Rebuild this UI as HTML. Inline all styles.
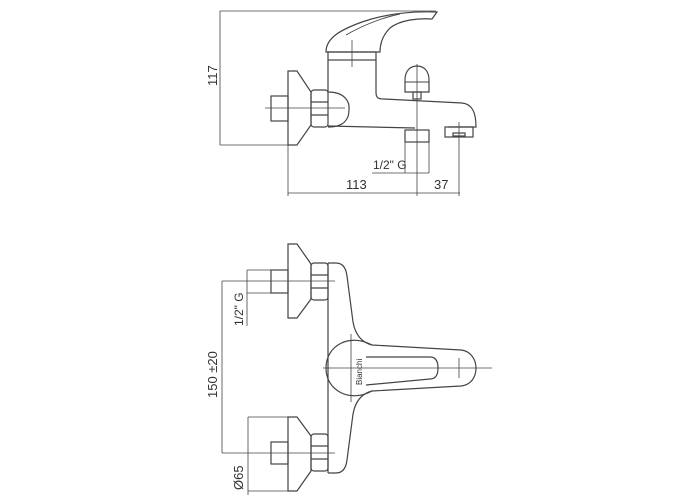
<!DOCTYPE html>
<html><head><meta charset="utf-8"><style>
html,body{margin:0;padding:0;background:#fff;}
svg{display:block;}
text{font-family:"Liberation Sans",sans-serif;fill:#333;}
</style></head><body>
<svg width="700" height="500" viewBox="0 0 700 500" fill="none" stroke="#444" stroke-width="1.2">
<!-- TOP VIEW -->
<!-- 117 dim -->
<line x1="220" y1="11" x2="220" y2="145" stroke-width="0.8"/>
<line x1="220" y1="11" x2="436" y2="11" stroke-width="0.8"/>
<line x1="220" y1="145" x2="297" y2="145" stroke-width="0.8"/>
<text x="0" y="0" transform="translate(217,86) rotate(-90)" font-size="13" stroke="none">117</text>
<!-- handle -->
<path d="M326,52 C326,38 340,30 362,22 C385,14 410,11 437,12 L432,19 C418,18 400,20 390,28 C382,36 380,44 380,52 Z"/>
<path d="M346,35 C365,24 385,17 400,14" stroke-width="0.9"/>
<rect x="328" y="52" width="48" height="8"/>
<line x1="352" y1="40" x2="352" y2="67" stroke-width="0.8"/>
<line x1="340" y1="52" x2="366" y2="52" stroke-width="0.8"/>
<!-- body -->
<path d="M328,60 L328,92 M376,60 L376,92 C376,98 378,99 384,99 L462,103 C472,104 476,112 476,127 L448,127"/>
<path d="M328,126 L415,128"/>
<path d="M328,92 C345,92 350,102 349,110 C349,120 343,127 328,127"/>
<!-- escutcheon, nut, pipe -->
<path d="M288,71 L297,71 L311,92 L311,125 L297,145 L288,145 Z"/>
<rect x="311" y="90" width="17" height="37" rx="3"/>
<line x1="311" y1="102" x2="328" y2="102"/>
<line x1="311" y1="115" x2="328" y2="115"/>
<rect x="271" y="96" width="17" height="25"/>
<line x1="265" y1="108" x2="345" y2="108" stroke-width="0.8"/>
<!-- diverter -->
<path d="M405,92 L405,80 C405,70 411,66 417,66 C423,66 429,70 429,80 L429,92 Z"/>
<line x1="405" y1="82" x2="429" y2="82" stroke-width="0.9"/>
<rect x="413" y="92" width="8" height="7"/>
<line x1="417" y1="64" x2="417" y2="196" stroke-width="0.8"/>
<!-- outlet -->
<rect x="405" y="130" width="24" height="12"/>
<line x1="405" y1="142" x2="405" y2="173" stroke-width="0.8"/>
<line x1="429" y1="142" x2="429" y2="173" stroke-width="0.8"/>
<line x1="372" y1="173" x2="429" y2="173" stroke-width="0.8"/>
<text x="373" y="169" font-size="12" stroke="none">1/2" G</text>
<!-- spout nozzle -->
<rect x="445" y="127" width="28" height="10"/>
<rect x="453" y="133" width="12" height="3"/>
<line x1="459" y1="122" x2="459" y2="196" stroke-width="0.8"/>
<!-- bottom dims -->
<line x1="288" y1="145" x2="288" y2="196" stroke-width="0.8"/>
<line x1="288" y1="193" x2="460" y2="193" stroke-width="0.8"/>
<text x="346" y="189" font-size="13" stroke="none">113</text>
<text x="434" y="189" font-size="13" stroke="none">37</text>

<!-- BOTTOM VIEW -->
<text x="0" y="0" transform="translate(217,398) rotate(-90)" font-size="13" stroke="none">150 ±20</text>
<line x1="222" y1="281" x2="222" y2="453" stroke-width="0.8"/>
<line x1="222" y1="281" x2="335" y2="281" stroke-width="0.8"/>
<line x1="222" y1="453" x2="335" y2="453" stroke-width="0.8"/>
<!-- 1/2 G dim -->
<line x1="247" y1="270" x2="271" y2="270" stroke-width="0.8"/>
<line x1="247" y1="293" x2="271" y2="293" stroke-width="0.8"/>
<line x1="247" y1="270" x2="247" y2="326" stroke-width="0.8"/>
<text x="0" y="0" transform="translate(243,326) rotate(-90)" font-size="12" stroke="none">1/2" G</text>
<!-- top escutcheon -->
<path d="M288,244 L297,244 L311,264 L311,299 L297,318 L288,318 Z"/>
<rect x="311" y="263" width="17" height="37" rx="3"/>
<line x1="311" y1="275" x2="328" y2="275"/>
<line x1="311" y1="288" x2="328" y2="288"/>
<rect x="271" y="270" width="17" height="23"/>
<!-- bottom escutcheon -->
<path d="M288,417 L297,417 L311,436 L311,471 L297,491 L288,491 Z"/>
<rect x="311" y="434" width="17" height="37" rx="3"/>
<line x1="311" y1="446" x2="328" y2="446"/>
<line x1="311" y1="459" x2="328" y2="459"/>
<rect x="271" y="442" width="17" height="22"/>
<!-- Ø65 -->
<line x1="248" y1="417" x2="288" y2="417" stroke-width="0.8"/>
<line x1="248" y1="491" x2="288" y2="491" stroke-width="0.8"/>
<line x1="248" y1="417" x2="248" y2="495" stroke-width="0.8"/>
<text x="0" y="0" transform="translate(243,490) rotate(-90)" font-size="13" stroke="none">Ø65</text>
<!-- body -->
<line x1="328" y1="263" x2="328" y2="473"/>
<path d="M328,263 L336,263 C343,263 346,268 347,276 L353,322 C355,333 360,342 372,345 L461,350 C471,351 476,360 476,368 C476,377 471,385 461,386 L372,391 C360,394 355,403 353,414 L347,460 C346,468 343,473 336,473 L328,473"/>
<path d="M372,345 C350,333 326,345 326,368 C326,391 350,403 372,391"/>
<path d="M366,357 L430,357 C436,357 438,362 438,368 C438,374 436,379 430,379 L366,385"/>
<line x1="323" y1="368" x2="492" y2="368" stroke-width="0.8"/>
<line x1="351" y1="334" x2="351" y2="402" stroke-width="0.8"/>
<line x1="459" y1="358" x2="459" y2="378" stroke-width="0.8"/>
<text x="0" y="0" transform="translate(362,385) rotate(-90)" font-size="8" stroke="none">Bianchi</text>
</svg>
</body></html>
